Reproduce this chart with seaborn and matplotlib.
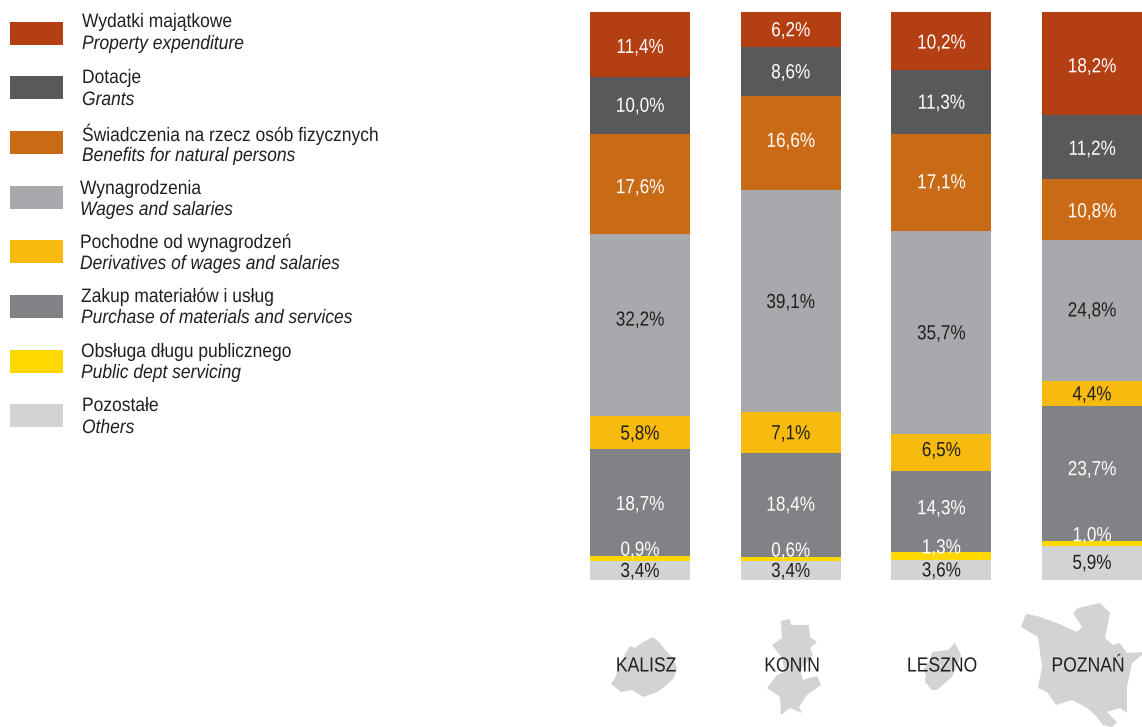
import matplotlib
matplotlib.use('Agg')
import matplotlib.pyplot as plt
from matplotlib.patches import Polygon, Rectangle
from matplotlib.patheffects import AbstractPathEffect
from matplotlib.transforms import Affine2D
import numpy as np
import pandas as pd
import seaborn as sns

cities = ['KALISZ', 'KONIN', 'LESZNO', 'POZNAŃ']

names_pl = ['Wydatki majątkowe', 'Dotacje', 'Świadczenia na rzecz osób fizycznych', 'Wynagrodzenia',
            'Pochodne od wynagrodzeń', 'Zakup materiałów i usług', 'Obsługa długu publicznego', 'Pozostałe']
names_en = ['Property expenditure', 'Grants', 'Benefits for natural persons', 'Wages and salaries',
            'Derivatives of wages and salaries', 'Purchase of materials and services',
            'Public dept servicing', 'Others']

property_exp = [11.4, 6.2, 10.2, 18.2]
grants = [10.0, 8.6, 11.3, 11.2]
benefits = [17.6, 16.6, 17.1, 10.8]
wages = [32.2, 39.1, 35.7, 24.8]
derivatives = [5.8, 7.1, 6.5, 4.4]
purchase = [18.7, 18.4, 14.3, 23.7]
debt = [0.9, 0.6, 1.3, 1.0]
others = [3.4, 3.4, 3.6, 5.9]

colors = ['#B33F12', '#58595B', '#C96A16', '#A7A9AC', '#F7BB10', '#808285', '#FFD800', '#D1D3D4']
label_colors = ['white', 'white', 'white', '#231F20', '#231F20', 'white', 'white', '#231F20']

# hand nudges for the value labels, pixels downwards, one row per series
label_nudge = [[2, 0, 1, 2], [0, 0, 0, 1], [3, -3, -1, 1], [-6, 0, 0, -1],
               [0, 0, -3, 0], [1, -1, -4, -5], [0, 0, 0, 0], [0, 0, 0, -1]]

# city outlines, reference pixels
kalisz_shape = [(611, 684), (615, 678), (620, 665), (626, 652), (630, 646), (635, 648), (643, 642), (653, 637),
                (660, 643), (667, 652), (673, 658), (677, 668), (674, 678), (663, 688), (657, 692), (643, 697),
                (632, 690), (621, 692), (615, 687)]
konin_shape = [(781, 621), (790, 619), (791, 625), (809, 625), (810, 637), (817, 642), (810, 648), (813, 655),
               (800, 670), (803, 680), (817, 676), (821, 685), (807, 695), (799, 707), (802, 713), (790, 708),
               (781, 715), (780, 697), (767, 688), (777, 675), (785, 672), (782, 658), (772, 645), (782, 638)]
leszno_shape = [(932, 652), (948, 650), (955, 643), (961, 655), (958, 663), (952, 677), (945, 683), (937, 690),
                (932, 690), (925, 682), (926, 675), (923, 670), (930, 660)]
poznan_shape = [(1021, 627), (1026, 614), (1037, 616), (1057, 623), (1077, 632), (1082, 627), (1073, 613),
                (1078, 608), (1100, 603), (1110, 613), (1105, 638), (1113, 645), (1120, 643), (1127, 653),
                (1142, 652), (1142, 655), (1132, 663), (1127, 687), (1127, 713), (1120, 708), (1107, 712),
                (1117, 722), (1112, 727), (1103, 725), (1095, 715), (1087, 708), (1072, 700), (1056, 705),
                (1047, 692), (1038, 688), (1042, 667), (1038, 637)]
shapes = [kalisz_shape, konin_shape, leszno_shape, poznan_shape]

series = [property_exp, grants, benefits, wages, derivatives, purchase, debt, others]


class Squeeze(AbstractPathEffect):
    # no narrow font installed, so the glyphs get squeezed sideways
    def __init__(self, sx, centre=False):
        super().__init__()
        self.sx = sx
        self.centre = centre

    def draw_path(self, renderer, gc, tpath, affine, rgbFace=None):
        mid = tpath.get_extents().x1 / 2 if self.centre else 0
        squeeze = Affine2D().translate(-mid, 0).scale(self.sx, 1).translate(mid, 0)
        renderer.draw_path(gc, tpath, squeeze + affine, rgbFace)


sns.set_theme(style='white')
plt.rcParams['font.family'] = ['Liberation Sans', 'DejaVu Sans']

fig = plt.figure(figsize=(11.42, 7.27), dpi=100)
ax = fig.add_axes([0, 0, 1, 1])

px_per_unit = 5.68

# stack from the top of the column downwards
bottom = np.array([100.0] * 4)
for name, vals, col, lab_col, nudge in zip(names_pl, series, colors, label_colors, label_nudge):
    vals = np.array(vals)
    bottom = bottom - vals
    df = pd.DataFrame({'city': cities, 'share': vals})
    sns.barplot(data=df, x='city', y='share', bottom=bottom, color=col, width=0.663,
                saturation=1, ax=ax, linewidth=0)
    for i, v in enumerate(vals):
        # thin strips get the label lifted above them
        y = bottom[i] + v / 2 - 0.2
        if v < 2:
            y = bottom[i] + v / 2 + 1.4
        y = y - nudge[i] / px_per_unit
        txt = f'{v:.1f}%'.replace('.', ',')
        ax.text(i, y, txt, ha='center', va='center', fontsize=14.7, color=lab_col, zorder=5,
                path_effects=[Squeeze(0.84, centre=True)])

ax.set_xlim(-640 / 150.67, (1142 - 640) / 150.67)
ax.set_ylim((580 - 727) / px_per_unit, 580 / px_per_unit)
ax.axis('off')

# overlay in pixel coordinates for key and outlines
over = fig.add_axes([0, 0, 1, 1])
over.set_xlim(0, 1142)
over.set_ylim(727, 0)
over.axis('off')
over.patch.set_alpha(0)

swatch_tops = [22, 76, 131, 186, 240, 295, 350, 404]
text_lefts = [82, 82, 82, 80, 80, 81, 81, 82]
pl_rows = [22.5, 78.5, 134.5, 189.5, 243.5, 297.5, 352.5, 406.5]
en_rows = [44.5, 100.5, 156.5, 210.5, 264.5, 318.5, 373.5, 428.5]
for top, left, y_pl, y_en, pl, en, col in zip(swatch_tops, text_lefts, pl_rows, en_rows, names_pl, names_en, colors):
    over.add_patch(Rectangle((10, top), 53, 23, color=col, linewidth=0))
    over.text(left, y_pl, pl, fontsize=14, color='#231F20', va='center', ha='left',
              path_effects=[Squeeze(0.897)])
    over.text(left, y_en, en, fontsize=14, style='italic', color='#231F20', va='center', ha='left',
              path_effects=[Squeeze(0.897)])

centers = [646, 792, 942, 1088]
for shape, city, cx in zip(shapes, cities, centers):
    over.add_patch(Polygon(shape, closed=True, color='#D1D3D4', linewidth=0))
    over.text(cx, 666, city, fontsize=14.7, color='#231F20', ha='center', va='center',
              path_effects=[Squeeze(0.86, centre=True)])

plt.savefig('out.png', dpi=100)
